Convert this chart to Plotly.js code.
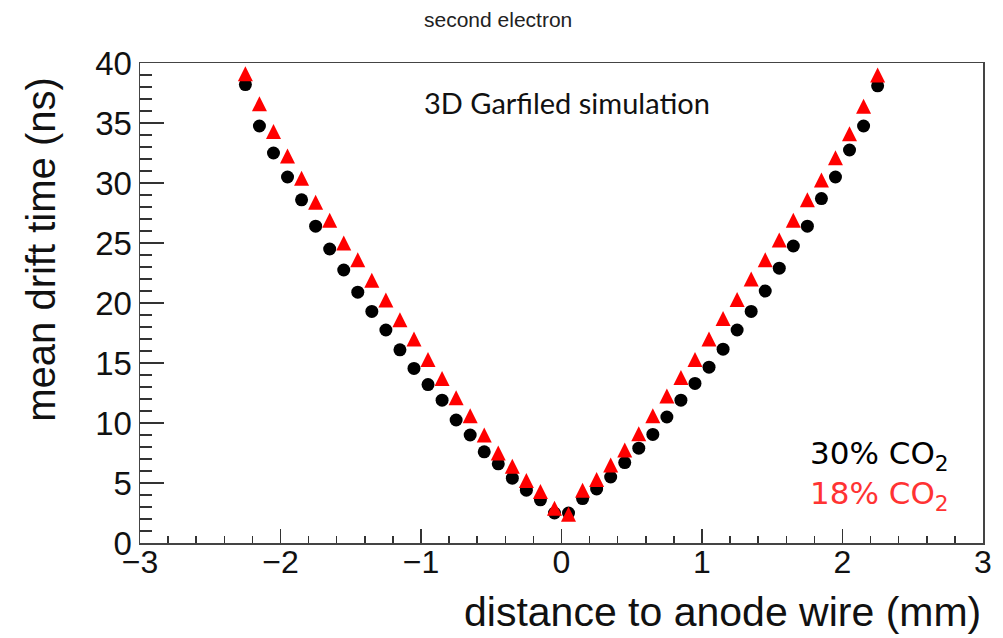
<!DOCTYPE html>
<html>
<head>
<meta charset="utf-8">
<script src="https://cdn.plot.ly/plotly-3.0.1.min.js"></script>
<style>html,body{margin:0;padding:0;background:#fff;}#chart{width:1003px;height:638px;}</style>
</head>
<body>
<div id="chart"></div>
<script>
const distance = [-2.25,-2.15,-2.05,-1.95,-1.85,-1.75,-1.65,-1.55,-1.45,-1.35,-1.25,-1.15,-1.05,-0.95,-0.85,-0.75,-0.65,-0.55,-0.45,-0.35,-0.25,-0.15,-0.05,
                  0.05,0.15,0.25,0.35,0.45,0.55,0.65,0.75,0.85,0.95,1.05,1.15,1.25,1.35,1.45,1.55,1.65,1.75,1.85,1.95,2.05,2.15,2.25];
const drift30 = [38.2,34.75,32.5,30.5,28.6,26.4,24.5,22.75,20.9,19.3,17.75,16.1,14.55,13.2,11.9,10.25,9.0,7.6,6.6,5.4,4.4,3.6,2.5,
                 2.5,3.7,4.5,5.5,6.7,7.9,9.05,10.5,11.9,13.3,14.65,16.15,17.75,19.3,21.0,22.9,24.75,26.4,28.7,30.5,32.75,34.75,38.1];
const drift18 = [39.1,36.6,34.3,32.25,30.4,28.4,26.9,25.0,23.6,21.9,20.25,18.6,17.0,15.3,13.7,12.1,10.6,9.0,7.5,6.4,5.2,4.3,2.9,
                 2.4,4.4,5.3,6.5,7.75,9.1,10.6,12.25,13.8,15.3,17.0,18.7,20.3,22.0,23.6,25.25,26.9,28.6,30.25,32.1,34.1,36.4,39.0];
const seriesNames = ['30% CO<sub>2</sub>', '18% CO<sub>2</sub>'];
const xTickVals = [-3,-2,-1,0,1,2,3];
const yTickVals = [0,5,10,15,20,25,30,35,40];

const traces = [
  {x: distance, y: drift30, mode: 'markers', type: 'scatter', name: '30% CO2',
   marker: {symbol: 'circle', size: 13, color: '#000000'}},
  {x: distance, y: drift18, mode: 'markers', type: 'scatter', name: '18% CO2',
   marker: {symbol: 'arrow-down', angle: 180, size: 15, standoff: 7.5, color: '#ff0000', line: {width: 0}}}
];

const axisFont = {family: 'Liberation Sans, Arial, sans-serif', size: 32, color: '#111'};
const layout = {
  width: 1003, height: 638,
  margin: {l: 140, r: 20, t: 63, b: 95},
  paper_bgcolor: '#ffffff', plot_bgcolor: '#ffffff',
  showlegend: false,
  xaxis: {
    range: [-3, 3], tickvals: xTickVals, ticks: 'inside', ticklen: 14, tickwidth: 1.5, tickcolor: '#333',
    showline: true, linecolor: '#444', linewidth: 1.5, mirror: true, ticklabelstandoff: -10,
    showgrid: false, zeroline: false, tickfont: axisFont,
    minor: {dtick: 0.2, ticks: 'inside', ticklen: 7, tickwidth: 1.5, tickcolor: '#333', showgrid: false}
  },
  yaxis: {
    range: [0, 40], tickvals: yTickVals, ticks: 'inside', ticklen: 24, tickwidth: 1.5, tickcolor: '#333',
    showline: true, linecolor: '#444', linewidth: 1.5, mirror: true,
    showgrid: false, zeroline: false, tickfont: {family: 'Liberation Sans, Arial, sans-serif', size: 33, color: '#111'},
    minor: {dtick: 1, ticks: 'inside', ticklen: 12, tickwidth: 1.5, tickcolor: '#333', showgrid: false}
  },
  annotations: [
    {text: 'second electron', xref: 'paper', yref: 'paper', x: 0.4247, y: 1.0896, xanchor: 'center', yanchor: 'middle',
     showarrow: false, font: {family: 'Liberation Sans, Arial, sans-serif', size: 21, color: '#222'}},
    {text: '3D Garfiled simulation', xref: 'paper', yref: 'paper', x: 0.5065, y: 0.9167, xanchor: 'center', yanchor: 'middle',
     showarrow: false, font: {family: 'Lato, sans-serif', size: 29, color: '#111'}},
    {text: 'mean drift time (ns)', xref: 'paper', yref: 'paper', x: -0.1174, y: 0.611, xanchor: 'center', yanchor: 'middle',
     textangle: -90, showarrow: false, font: {family: 'Liberation Sans, Arial, sans-serif', size: 40, color: '#111'}},
    {text: 'distance to anode wire (mm)', xref: 'paper', yref: 'paper', x: 1.0, y: -0.144, xanchor: 'right', yanchor: 'middle',
     showarrow: false, font: {family: 'Liberation Sans, Arial, sans-serif', size: 41, color: '#111'}},
    {text: seriesNames[0] + '<br><span style="color:#ff3333">' + seriesNames[1] + '</span>', xref: 'paper', yref: 'paper',
     x: 0.793, y: 0.1396, xanchor: 'left', yanchor: 'middle', align: 'left',
     showarrow: false, font: {family: 'DejaVu Sans, sans-serif', size: 31, color: '#000'}}
  ]
};

Plotly.newPlot('chart', traces, layout, {displayModeBar: false, staticPlot: true});
</script>
</body>
</html>
